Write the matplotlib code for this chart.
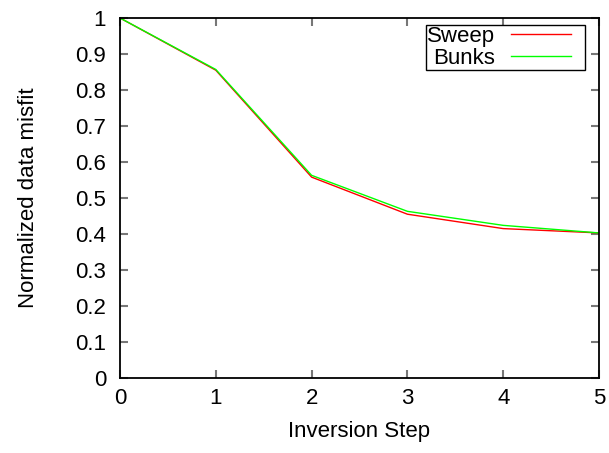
import matplotlib
matplotlib.use("Agg")
import matplotlib.pyplot as plt
import numpy as np

steps = [0, 1, 2, 3, 4, 5]
sweep = [1.0, 0.855, 0.558, 0.455, 0.415, 0.403]
bunks = [1.0, 0.857, 0.563, 0.463, 0.424, 0.403]
xticks = [0, 1, 2, 3, 4, 5]
yticks = [0, 0.1, 0.2, 0.3, 0.4, 0.5, 0.6, 0.7, 0.8, 0.9, 1]
ytick_labels = ["0", "0.1", "0.2", "0.3", "0.4", "0.5", "0.6", "0.7", "0.8", "0.9", "1"]

plt.rcParams['font.family'] = ['Liberation Sans', 'DejaVu Sans']
plt.rcParams['font.size'] = 16

fig = plt.figure(figsize=(6.09, 4.53), dpi=100)
ax = fig.add_axes([120/609, 75/453, 479/609, 360/453])

ax.plot(steps, sweep, color='#ff0000', lw=1, label='Sweep')
ax.plot(steps, bunks, color='#00ff00', lw=1, label='Bunks')

ax.set_xlim(0, 5)
ax.set_ylim(0, 1)
ax.set_xticks(xticks)
ax.set_yticks(yticks)
ax.set_yticklabels(ytick_labels)
ax.tick_params(axis='x', direction='in', top=True, length=6, width=1.5, color='#777777', labelsize=16, pad=7)
ax.tick_params(axis='y', direction='in', right=True, length=6, width=1.5, color='#777777', labelsize=16, pad=10)
for s in ax.spines.values():
    s.set_color('black')
    s.set_linewidth(1.3)

ax.set_xlabel('Inversion Step', fontsize=16, labelpad=9)
ax.set_ylabel('Normalized data misfit', fontsize=16, labelpad=26)

leg = ax.legend(loc='upper right', bbox_to_anchor=(585/609, 1 - 25/453), bbox_transform=fig.transFigure,
                markerfirst=False, fancybox=False, framealpha=1, edgecolor='black',
                handlelength=3.3, handletextpad=0.68, borderpad=0.05, labelspacing=0.02, fontsize=16,
                borderaxespad=0)
leg.get_frame().set_linewidth(1)
for t in leg.get_texts():
    t.set_ha('right')
# leave a gap between the legend sample lines and the right edge of the box
for ln in leg.get_lines():
    xd = np.asarray(ln.get_xdata(), dtype=float)
    yd = np.asarray(ln.get_ydata(), dtype=float)
    ln.set_data([xd.min(), xd.max() - 9.4], [yd[0], yd[0]])

fig.savefig('out.png', dpi=100)
